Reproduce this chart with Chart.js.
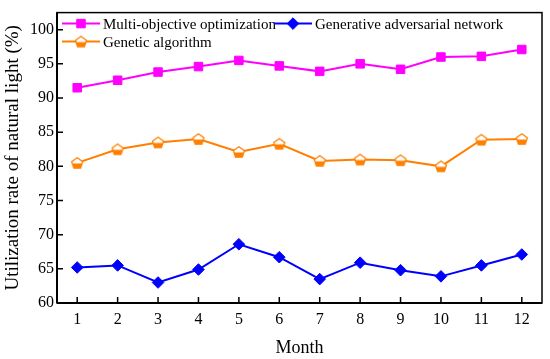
<!DOCTYPE html>
<html><head><meta charset="utf-8">
<script src="https://cdn.jsdelivr.net/npm/chart.js@4"></script>
<style>html,body{margin:0;padding:0;background:#fff}#wrap{width:550px;height:359px}</style>
</head><body><div id="wrap"><canvas id="c" width="550" height="359"></canvas></div>
<script>
const months = [1,2,3,4,5,6,7,8,9,10,11,12];
const yTicks = [60,65,70,75,80,85,90,95,100];
const multiObjective = [91.5,92.6,93.8,94.6,95.5,94.7,93.9,95.0,94.2,96.0,96.1,97.1];
const geneticAlgorithm = [80.5,82.5,83.5,84.0,82.1,83.3,80.8,81.0,80.9,80.0,83.9,84.0];
const gan = [65.2,65.5,63.0,64.9,68.6,66.7,63.5,65.9,64.8,63.9,65.5,67.1];
const seriesNames = ['Multi-objective optimization','Genetic algorithm','Generative adversarial network'];

const MAG = '#ff00ff', ORA = '#ff8000', BLU = '#0000ff';

function pentagon(){
  const c = document.createElement('canvas'); c.width = 14; c.height = 14;
  const g = c.getContext('2d');
  const cx = 7, cy = 7.5, r = 5.8;
  const pts = [];
  for (let i=0;i<5;i++){ const a = -Math.PI/2 + i*2*Math.PI/5; pts.push([cx+r*Math.cos(a), cy+r*Math.sin(a)]); }
  g.beginPath(); pts.forEach((p,i)=> i?g.lineTo(p[0],p[1]):g.moveTo(p[0],p[1])); g.closePath();
  g.fillStyle='#fff'; g.fill();
  g.save(); g.clip(); g.fillStyle=ORA; g.fillRect(0,cy,14,14); g.restore();
  g.strokeStyle=ORA; g.lineWidth=1.3; g.stroke();
  return c;
}
const pent = pentagon();

const toXY = arr => arr.map((v,i)=>({x:months[i], y:v}));

const inTicks = {
  id:'inTicks',
  afterDraw(chart){
    const {ctx, chartArea:a, scales:{x,y}} = chart;
    ctx.save();
    ctx.strokeStyle='#000'; ctx.lineWidth=1.5;
    ctx.strokeRect(a.left, a.top, a.right-a.left, a.bottom-a.top);
    ctx.lineWidth=2;
    ctx.beginPath(); ctx.moveTo(a.left,a.bottom); ctx.lineTo(a.right,a.bottom);
    ctx.moveTo(a.left,a.top); ctx.lineTo(a.left,a.bottom); ctx.stroke();
    ctx.lineWidth=1.5;
    ctx.beginPath();
    months.forEach(m=>{const px=x.getPixelForValue(m); ctx.moveTo(px,a.bottom); ctx.lineTo(px,a.bottom-6);});
    yTicks.forEach(t=>{const py=y.getPixelForValue(t); ctx.moveTo(a.left,py); ctx.lineTo(a.left+6,py);});
    ctx.stroke();
    // legend
    const ds = chart.data.datasets;
    const items = [
      {d:ds[0], x:a.left+5, y:a.top+11},
      {d:ds[2], x:a.left+217, y:a.top+11},
      {d:ds[1], x:a.left+5, y:a.top+29}
    ];
    ctx.font = '15px "Liberation Serif"';
    ctx.textBaseline='middle'; ctx.textAlign='left';
    items.forEach(it=>{
      const d = it.d;
      ctx.strokeStyle=d.borderColor; ctx.lineWidth=2;
      ctx.beginPath(); ctx.moveTo(it.x,it.y); ctx.lineTo(it.x+38,it.y); ctx.stroke();
      ctx.fillStyle=d.backgroundColor; ctx.lineWidth=1;
      Chart.helpers.drawPoint(ctx,{pointStyle:d.pointStyle, radius:d.pointRadius, borderWidth:1, rotation:0},it.x+19,it.y);
      ctx.fillStyle='#000';
      ctx.fillText(d.label, it.x+41, it.y+1);
    });
    ctx.restore();
  }
};

new Chart(document.getElementById('c'),{
  type:'line',
  data:{datasets:[
    {label:seriesNames[0], data:toXY(multiObjective), borderColor:MAG, backgroundColor:MAG, pointStyle:'rect', pointRadius:6, pointBorderWidth:1, borderWidth:2},
    {label:seriesNames[1], data:toXY(geneticAlgorithm), borderColor:ORA, backgroundColor:ORA, pointStyle:pent, pointRadius:6, borderWidth:2},
    {label:seriesNames[2], data:toXY(gan), borderColor:BLU, backgroundColor:BLU, pointStyle:'rectRot', pointRadius:5.8, pointBorderWidth:1, borderWidth:2}
  ]},
  options:{
    responsive:false, animation:false, devicePixelRatio:1,
    layout:{padding:{top:5,right:7,left:0,bottom:0}},
    plugins:{legend:{display:false}, tooltip:{enabled:false}},
    scales:{
      x:{type:'linear', min:0.5, max:12.5,
        afterBuildTicks(s){ s.ticks = months.map(v=>({value:v})); },
        afterFit(s){ s.height = 56; },
        grid:{display:false, drawTicks:false},
        border:{display:false},
        ticks:{color:'#000', padding:7, font:{family:'Liberation Serif', size:16}},
        title:{display:true, text:'Month', color:'#000', font:{family:'Liberation Serif', size:18}, padding:{top:3,bottom:0}}
      },
      y:{min:60, max:102.5,
        afterBuildTicks(s){ s.ticks = yTicks.map(v=>({value:v})); },
        afterFit(s){ s.width = 57; },
        grid:{display:false, drawTicks:false},
        border:{display:false},
        ticks:{color:'#000', padding:3, font:{family:'Liberation Serif', size:16}},
        title:{display:true, text:'Utilization rate of natural light (%)', color:'#000', font:{family:'Liberation Serif', size:19}, padding:{top:2,bottom:0}}
      }
    }
  },
  plugins:[inTicks]
});
</script></body></html>
